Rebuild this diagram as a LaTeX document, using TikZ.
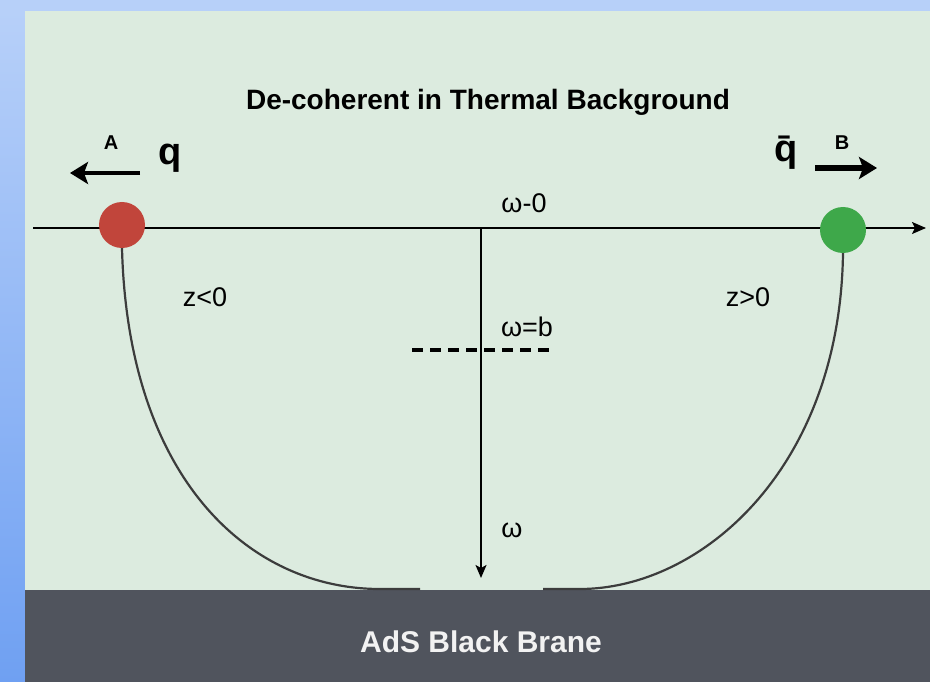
\documentclass[tikz,border=0pt]{standalone}
\usepackage{fontspec}
\setmainfont{Liberation Sans}
\usetikzlibrary{arrows.meta,positioning}
\definecolor{skyblue}{HTML}{B7D0F9}
\definecolor{deepblue}{HTML}{6FA0F2}
\definecolor{thermal}{HTML}{DCEBDF}
\definecolor{brane}{HTML}{50545D}
\definecolor{quarkred}{HTML}{C1453B}
\definecolor{quarkgreen}{HTML}{3EA84A}
\definecolor{stringgray}{HTML}{3C3C3C}

\begin{document}
\begin{tikzpicture}[
  x=1pt, y=-1pt,
  quark/.style={circle, minimum size=46pt, inner sep=0pt},
  lbl/.style={font=\fontsize{27}{29}\selectfont, inner sep=0pt},
  tag/.style={font=\bfseries\fontsize{20}{22}\selectfont, inner sep=0pt},
  flavour/.style={font=\bfseries\fontsize{38}{40}\selectfont, inner sep=0pt},
  axis/.style={line width=1.8pt, -{Stealth[length=14pt,width=12pt,inset=3pt]}},
  strng/.style={line width=2.2pt, stringgray},
  pull/.style={-{Stealth[length=18pt,width=22pt,inset=4pt]}}
]
  \useasboundingbox (0,0) rectangle (930,682);
  % panels
  \fill[skyblue] (0,0) rectangle (930,682);
  \shade[top color=skyblue, bottom color=deepblue] (0,11) rectangle (25,682);
  \fill[thermal] (25,11) rectangle (930,590);
  \fill[brane] (25,590) rectangle (930,682);

  \node[font=\bfseries\fontsize{28}{30}\selectfont] (title) at (488,102) {De-coherent in Thermal Background};

  % boundary axis and radial axis
  \coordinate (axL) at (33,228);
  \coordinate (axR) at (926,228);
  \draw[axis] (axL) -- (axR);
  \coordinate (origin) at (481,228);
  \coordinate (horizon) at (481,578);
  \draw[line width=1.8pt, -{Stealth[length=13pt,width=11pt,inset=3pt]}] (origin) -- (horizon);
  \coordinate (bL) at (412,350);
  \coordinate (bR) at (552,350);
  \draw[line width=3.5pt, dash pattern=on 11pt off 7pt] (bL) -- (bR);

  % quark pair
  \node[quark, fill=quarkred] (qA) at (122,225) {};
  \node[quark, fill=quarkgreen] (qB) at (843,230) {};

  % string hanging towards the brane
  \coordinate (endL) at (420,589);
  \coordinate (endR) at (543,589);
  \draw[strng] (qA.south) .. controls (128,480) and (250,589) .. (380,589) -- (endL);
  \draw[strng] (qB.south) .. controls (840,470) and (700,589) .. (580,589) -- (endR);

  \node[flavour] (q) at (170,158) {q};
  \node[flavour] (qbar) at (786,153) {\={q}};
  \node[tag] (tagA) at (111,143) {A};
  \node[tag] (tagB) at (842,143) {B};
  \coordinate (aTail) at (140,173);
  \coordinate (aHead) at (70,173);
  \draw[pull, line width=4pt] (aTail) -- (aHead);
  \coordinate (bTail) at (815,168);
  \coordinate (bHead) at (877,168);
  \draw[pull, line width=6pt] (bTail) -- (bHead);

  \node[lbl] (w0) at (524,203) {ω-0};
  \node[lbl] (wb) at (527,327) {ω=b};
  \node[lbl] (w) at (512,530) {ω};
  \node[lbl] (zneg) at (205,297) {z<0};
  \node[lbl] (zpos) at (748,297) {z>0};
  \node[font=\bfseries\fontsize{30}{32}\selectfont, text=white!90!gray] (ads) at (481,642) {AdS Black Brane};
\end{tikzpicture}
\end{document}
